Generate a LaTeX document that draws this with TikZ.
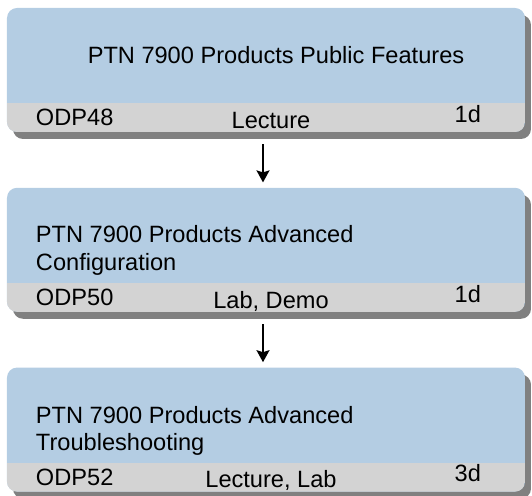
\documentclass[tikz,border=0pt]{standalone}
\usepackage{fontspec}
\setmainfont{Liberation Sans}
\usetikzlibrary{positioning,shadows,arrows.meta}

\definecolor{courseblue}{RGB}{180,205,227}
\definecolor{bandgrey}{RGB}{211,211,211}
\definecolor{shadowgrey}{RGB}{128,128,128}

\tikzset{
  course/.style={rectangle, rounded corners=5pt, inner sep=0pt,
    minimum width=259pt, minimum height=62pt, fill=courseblue,
    drop shadow={shadow xshift=3pt, shadow yshift=-3.5pt, fill=shadowgrey, opacity=1},
    path picture={\fill[bandgrey, sharp corners] (path picture bounding box.south west)
      rectangle ([yshift=14.5pt]path picture bounding box.south east);}},
  ctext/.style={inner sep=0pt, font=\fontsize{11.8}{13.6}\selectfont, align=left},
  flow/.style={line width=0.9pt, -{Stealth[length=6pt, width=6.5pt, inset=1pt]}},
}

\begin{document}
\begin{tikzpicture}

  \useasboundingbox (0,0) rectangle (266pt,-248pt);

  \node[course] (c48) at (133pt,-35pt) {}; %
  \node[course, below=27.5pt of c48] (c50) {}; %
  \node[course, below=27.5pt of c50] (c52) {}; %

  \draw[flow] ([xshift=-1.5pt, yshift=-6pt]c48.south) -- ([xshift=-1.5pt, yshift=2.5pt]c50.north); %
  \draw[flow] ([xshift=-1.5pt, yshift=-6pt]c50.south) -- ([xshift=-1.5pt, yshift=2.5pt]c52.north); %

  % titles
  \node[ctext, anchor=base] (c48-title) at ([xshift=5pt, yshift=-28pt]c48.north) {PTN 7900 Products Public Features}; %
  \node[ctext, anchor=north west] (c50-title) at ([xshift=14.5pt, yshift=-19pt]c50.north west) {PTN 7900 Products Advanced\\Configuration}; %
  \node[ctext, anchor=north west] (c52-title) at ([xshift=14.5pt, yshift=-19.5pt]c52.north west) {PTN 7900 Products Advanced\\Troubleshooting}; %

  % bands
  \node[ctext, anchor=base west] (c48-code) at ([xshift=14.5pt, yshift=3.25pt]c48.south west) {ODP48}; %
  \node[ctext, anchor=base] (c48-mode) at ([xshift=2.5pt, yshift=2pt]c48.south) {Lecture}; %
  \node[ctext, anchor=base east] (c48-days) at ([xshift=-22pt, yshift=5pt]c48.south east) {1d}; %

  \node[ctext, anchor=base west] (c50-code) at ([xshift=14.5pt, yshift=3.25pt]c50.south west) {ODP50}; %
  \node[ctext, anchor=base] (c50-mode) at ([xshift=2.5pt, yshift=2pt]c50.south) {Lab, Demo}; %
  \node[ctext, anchor=base east] (c50-days) at ([xshift=-22pt, yshift=5pt]c50.south east) {1d}; %

  \node[ctext, anchor=base west] (c52-code) at ([xshift=14.5pt, yshift=3.25pt]c52.south west) {ODP52}; %
  \node[ctext, anchor=base] (c52-mode) at ([xshift=2.5pt, yshift=2pt]c52.south) {Lecture, Lab}; %
  \node[ctext, anchor=base east] (c52-days) at ([xshift=-22pt, yshift=5pt]c52.south east) {3d}; %

\end{tikzpicture}
\end{document}
